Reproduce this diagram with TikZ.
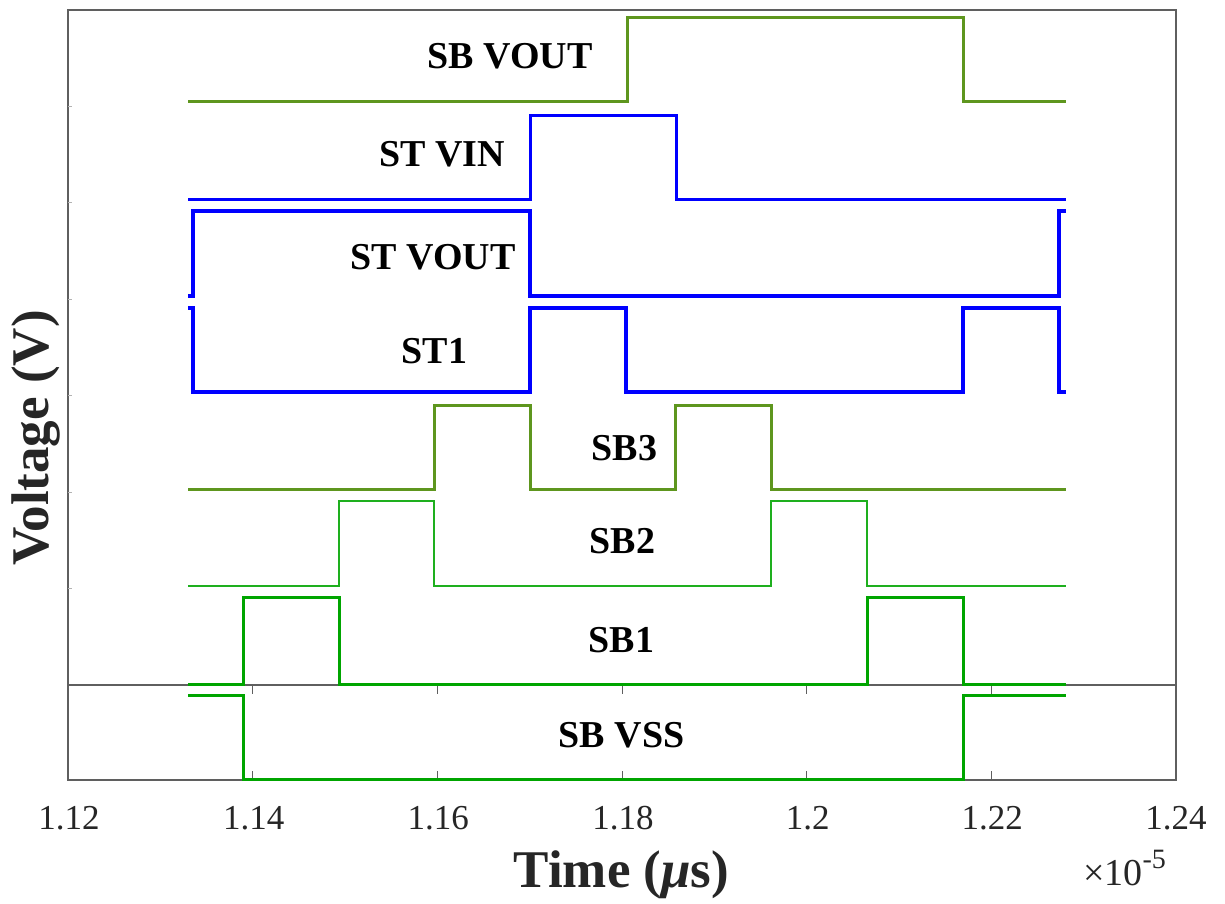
\documentclass[tikz,border=0pt]{standalone}
\usepackage{fontspec}
\setmainfont{Liberation Serif}
\definecolor{sbolive}{RGB}{94,150,30}
\definecolor{sbgreen}{RGB}{0,165,0}
\definecolor{sbgreenlt}{RGB}{30,175,30}
\definecolor{stblue}{RGB}{0,0,255}
\definecolor{axgray}{RGB}{95,95,95}
\definecolor{txtgray}{RGB}{38,38,38}
\tikzset{
  x=1pt, y=-1pt,
  axisline/.style={draw=axgray, line width=1.1pt},
  tickline/.style={draw=axgray, line width=1pt},
  faint/.style={draw=black!30, line width=1pt},
  sig/.style={line width=#1, line join=miter},
  siglabel/.style={font=\fontsize{38}{40}\selectfont\bfseries, text=black, anchor=base, inner sep=0pt},
  ticklabel/.style={font=\fontsize{35}{38}\selectfont, text=txtgray, anchor=base, inner sep=0pt},
  axlabel/.style={font=\fontsize{53}{55}\selectfont\bfseries, text=txtgray, inner sep=0pt}
}
\begin{document}
\begin{tikzpicture}
\useasboundingbox (0,0) rectangle (1225,903);
\fill[white] (0,0) rectangle (1225,903);
% axes boxes
\draw[axisline] (68,10) rectangle (1176,685);
\draw[axisline] (68,685) rectangle (1176,780);
% faint left ticks
\foreach \yy in {106,202,299,395,492,588} \draw[faint] (68,\yy) -- (72,\yy);
% x ticks of lower axes
\foreach \xx in {252.7,437.3,622,806.7,991.3} {
  \draw[tickline] (\xx,780) -- (\xx,771);
  \draw[tickline] (\xx,685) -- (\xx,694);
}
% signals
\draw[sbolive, sig=3pt] (188,101) -- (627,101) -- (627,17) -- (963,17) -- (963,101) -- (1066,101);
\draw[stblue, sig=3pt] (188,199) -- (530,199) -- (530,115) -- (676,115) -- (676,199) -- (1066,199);
\draw[stblue, sig=3.6pt] (188,296) -- (193,296) -- (193,211) -- (530,211) -- (530,296) -- (1059,296) -- (1059,211) -- (1066,211);
\draw[stblue, sig=3.6pt] (188,308) -- (193,308) -- (193,392) -- (530,392) -- (530,308) -- (626,308) -- (626,392) -- (963,392) -- (963,308) -- (1059,308) -- (1059,392) -- (1066,392);
\draw[sbolive, sig=3pt] (188,489) -- (434,489) -- (434,405) -- (530,405) -- (530,489) -- (675,489) -- (675,405) -- (771,405) -- (771,489) -- (1066,489);
\draw[sbgreenlt, sig=2.2pt] (188,586) -- (339,586) -- (339,501) -- (434,501) -- (434,586) -- (771,586) -- (771,501) -- (867,501) -- (867,586) -- (1066,586);
\draw[sbgreen, sig=3pt] (188,684) -- (243,684) -- (243,597) -- (339,597) -- (339,684) -- (867,684) -- (867,597) -- (963,597) -- (963,684) -- (1066,684);
\draw[sbgreen, sig=3pt] (188,695) -- (243,695) -- (243,779) -- (963,779) -- (963,695) -- (1066,695);
% signal labels
\node[siglabel] (lsbvout) at (510,68) {SB VOUT};
\node[siglabel] (lstvin) at (442,166) {ST VIN};
\node[siglabel] (lstvout) at (433,269) {ST VOUT};
\node[siglabel] (lst1) at (434.5,363) {ST1};
\node[siglabel] (lsb3) at (624.5,460) {SB3};
\node[siglabel] (lsb2) at (622.5,553) {SB2};
\node[siglabel] (lsb1) at (621.5,652) {SB1};
\node[siglabel] (lsbvss) at (621.5,747) {SB VSS};
% tick labels
\node[ticklabel] (t112) at (69,829) {1.12};
\node[ticklabel] (t114) at (253.7,829) {1.14};
\node[ticklabel] (t116) at (438.3,829) {1.16};
\node[ticklabel] (t118) at (623,829) {1.18};
\node[ticklabel] (t120) at (807.7,829) {1.2};
\node[ticklabel] (t122) at (992.3,829) {1.22};
\node[ticklabel] (t124) at (1176,829) {1.24};
\node[font=\fontsize{38}{40}\selectfont, text=txtgray, anchor=base west, inner sep=0pt] (exp) at (1083,885) {×10\raisebox{17pt}{\fontsize{28}{30}\selectfont -5}};
% axis labels
\node[axlabel, anchor=base] (xlab) at (621.5,887) {Time (\textit{μ}s)};
\node[axlabel, anchor=base, rotate=90] (ylab) at (48,438) {Voltage (V)};
\end{tikzpicture}
\end{document}
